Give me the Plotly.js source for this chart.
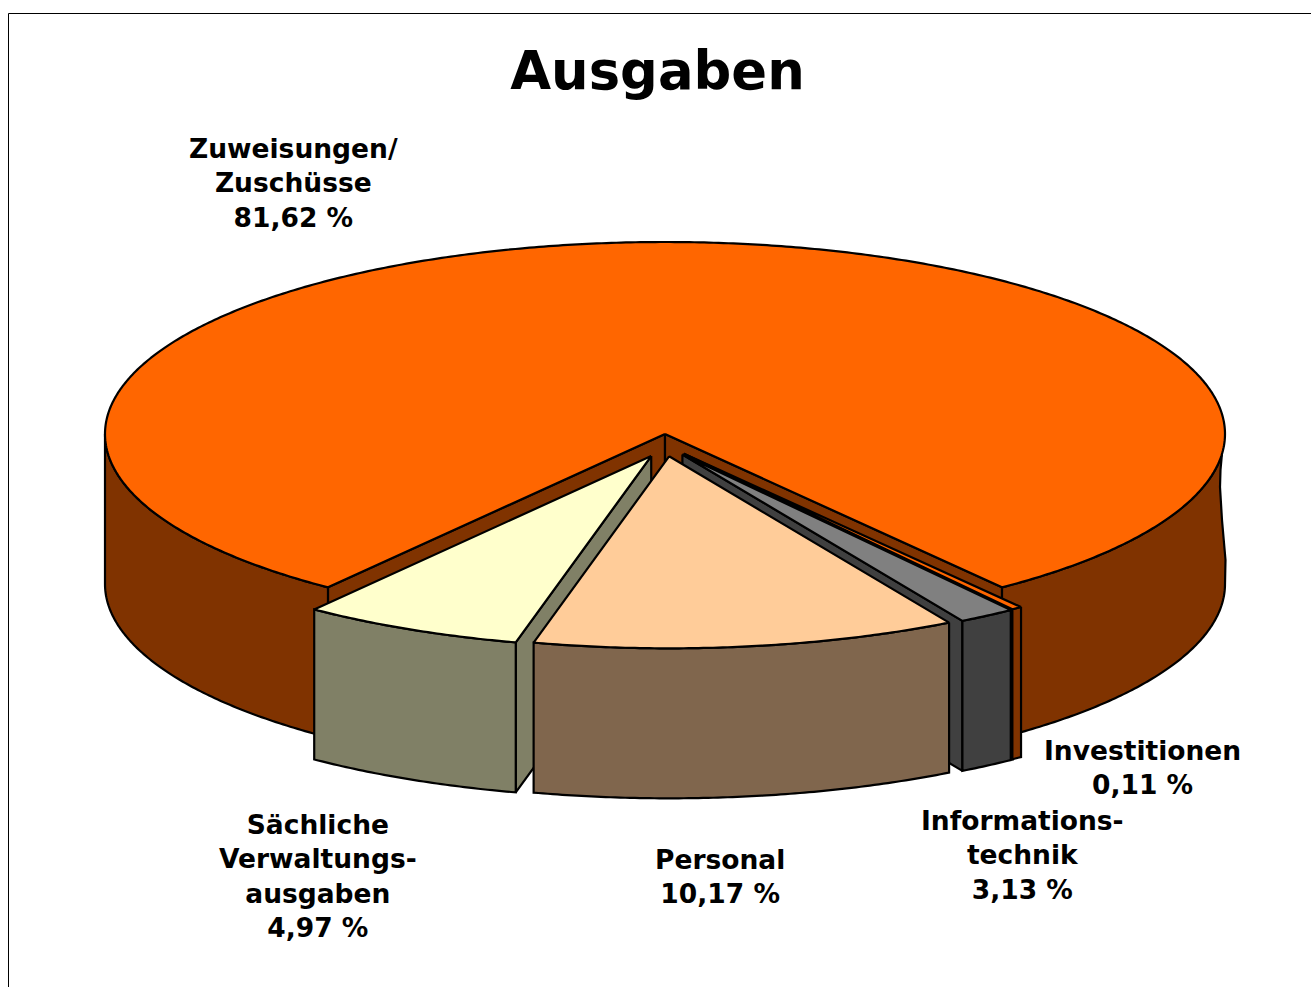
<!DOCTYPE html>
<html>
<head>
<meta charset="utf-8">
<script src="https://cdn.plot.ly/plotly-3.0.1.min.js"></script>
<style>
html,body{margin:0;padding:0;background:#fff;overflow:hidden}
#chart{width:1311px;height:987px}
</style>
</head>
<body>
<div id="chart"></div>
<script>
// ---- data ----
const categories = ['Zuweisungen/<br>Zuschüsse', 'Investitionen', 'Informations-<br>technik', 'Personal', 'Sächliche<br>Verwaltungs-<br>ausgaben'];
const shares = [81.62, 0.11, 3.13, 10.17, 4.97];
// angle each slice really occupies in the drawing (the picture's slices are not proportional to their labels)
const drawnSweepDeg = [286, 1.1, 5.9, 44, 23];
const topColors = ['#FF6600', '#FF6600', '#808080', '#FFCC99', '#FFFFCC'];
const sideColors = ['#803300', '#803300', '#404040', '#80664D', '#808066'];
const exploded = [0, 1, 1, 0.92, 1];
const drawOrder = [0, 1, 2, 4, 3];
const labelX = [293, 1142, 1022, 720, 318];
const labelY = [182.5, 767, 854.5, 876, 876];

// ---- pie geometry in axis units ----
const CX = 665, CY = 434, RX = 560, RY = 192, DEPTH = 150;
const EXPLODE_X = 32, EXPLODE_Y = 24.5, START_DEG = 127;
// the reference's right silhouette dips slightly inward just under the rim
const RIGHT_DIP_DEG = 6;
const RIGHT_DIP = [[0.5, -24], [-3, -64], [-5, -97], [-4.5, -114]];
const rad = d => d * Math.PI / 180;

function arc(c, a0, a1, dz) {
  const n = Math.max(2, Math.ceil(Math.abs(a1 - a0) * 2));
  const pts = [];
  for (let i = 0; i <= n; i++) {
    const t = rad(a0 + (a1 - a0) * i / n);
    pts.push([c[0] + RX * Math.cos(t), c[1] + RY * Math.sin(t) + dz]);
  }
  return pts;
}
function poly(pts, fill, name) {
  const x = pts.map(p => p[0]), y = pts.map(p => p[1]);
  x.push(x[0]); y.push(y[0]);
  return { type: 'scatter', mode: 'lines', x, y, fill: 'toself', fillcolor: fill, name,
           line: { color: '#000', width: 2.2, simplify: false }, hoverinfo: 'skip', showlegend: false };
}
function edgeWall(c, a, color, name) {
  const p = arc(c, a, a, 0)[0];
  return poly([c, p, [p[0], p[1] + DEPTH], [c[0], c[1] + DEPTH]], color, name);
}

// cumulative angle per slice
const starts = [];
drawnSweepDeg.reduce((acc, s) => { starts.push(acc); return acc + s; }, START_DEG);

// a slice's outer wall is only visible in the front half of the circle
function visibleFrontRanges(a0, a1) {
  const out = [];
  for (const k of [0, 360]) {
    const lo = Math.max(a0, k), hi = Math.min(a1, k + 180);
    if (lo < hi) out.push([lo, hi]);
  }
  return out;
}

const traces = [];
drawOrder.forEach(i => {
  const name = categories[i];
  const a0 = starts[i], a1 = a0 + drawnSweepDeg[i], mid = rad((a0 + a1) / 2);
  const c = [CX + exploded[i] * EXPLODE_X * Math.cos(mid), CY + exploded[i] * EXPLODE_Y * Math.sin(mid)];
  // a cut face shows only if it turns towards the viewer
  if (Math.cos(rad(a0)) < 0) traces.push(edgeWall(c, a0, sideColors[i], name));
  if (Math.cos(rad(a1)) > 0) traces.push(edgeWall(c, a1, sideColors[i], name));
  for (const [lo, hi] of visibleFrontRanges(a0, a1)) {
    if (lo === 360) {
      const tail = RIGHT_DIP.map(d => [c[0] + RX + d[0], c[1] + DEPTH + d[1]]);
      traces.push(poly(arc(c, lo + RIGHT_DIP_DEG, hi, 0).concat(arc(c, hi, lo, DEPTH), tail), sideColors[i], name));
    } else {
      traces.push(poly(arc(c, lo, hi, 0).concat(arc(c, hi, lo, DEPTH)), sideColors[i], name));
    }
  }
  traces.push(poly([c].concat(arc(c, a0, a1, 0)), topColors[i], name));
});

const font = { family: '"DejaVu Sans", Verdana, sans-serif', color: '#000' };
const annotations = categories.map((name, i) => ({
  xref: 'x', yref: 'y', x: labelX[i], y: labelY[i], showarrow: false, align: 'center',
  xanchor: 'center', yanchor: 'middle',
  text: '<b>' + name + '<br>' + shares[i].toFixed(2).replace('.', ',') + ' %</b>',
  font: Object.assign({}, font, { size: 26.5 })
}));

const layout = {
  width: 1311, height: 987, margin: { l: 0, r: 0, t: 0, b: 0 },
  paper_bgcolor: '#fff', plot_bgcolor: '#fff', showlegend: false,
  title: { text: '<b>Ausgaben</b>', x: 657.5 / 1311, xanchor: 'center', y: 1 - 71 / 987, yanchor: 'middle',
           font: Object.assign({}, font, { size: 52.8 }) },
  xaxis: { range: [0, 1311], visible: false, fixedrange: true },
  yaxis: { range: [987, 0], visible: false, fixedrange: true },
  shapes: [{ type: 'rect', xref: 'x', yref: 'y', x0: 8.5, y0: 13.5, x1: 1400, y1: 1100, line: { color: '#000', width: 1 }, layer: 'below' }],
  annotations
};
Plotly.newPlot('chart', traces, layout, { displayModeBar: false, staticPlot: true });
</script>
</body>
</html>
